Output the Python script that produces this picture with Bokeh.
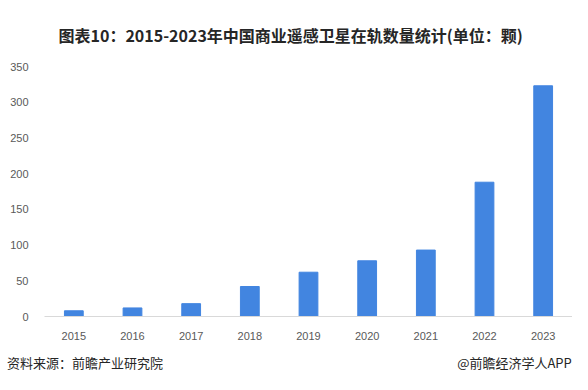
from bokeh.plotting import figure
from bokeh.models import Range1d, FixedTicker, LinearAxis, Title
from bokeh.embed import file_html
from bokeh.resources import INLINE

years = ["2015", "2016", "2017", "2018", "2019", "2020", "2021", "2022", "2023"]
counts = [8, 12, 18, 42, 62, 78, 93, 188, 323]
y_ticks = [0, 50, 100, 150, 200, 250, 300, 350]

title_text = "图表10：2015-2023年中国商业遥感卫星在轨数量统计(单位：颗)"
source_text = "资料来源：前瞻产业研究院"
brand_text = "@前瞻经济学人APP"

idx = list(range(len(years)))

W, H = 572, 374
FL, FT, FB = 44, 59, 55  # frame borders (figure px)
p = figure(width=W, height=H, x_range=Range1d(-0.5, len(years) - 0.5),
           y_range=Range1d(0, 350), output_backend="svg", toolbar_location=None,
           min_border_left=FL, min_border_right=0, min_border_top=FT, min_border_bottom=FB)
p.vbar(x=idx, top=counts, width=0.32, color="#4285e0")

p.xgrid.visible = False
p.ygrid.visible = False
p.outline_line_color = None
p.background_fill_color = "white"
p.border_fill_color = "white"

p.xaxis.ticker = FixedTicker(ticks=idx)
p.xaxis.major_label_overrides = {i: y for i, y in zip(idx, years)}
p.yaxis.ticker = FixedTicker(ticks=y_ticks)
for ax in (p.xaxis[0], p.yaxis[0]):
    ax.major_tick_line_color = None
    ax.minor_tick_line_color = None
    ax.major_label_text_color = "#595959"
    ax.major_label_text_font = "Liberation Sans"
    ax.major_label_text_font_size = "11px"
p.yaxis.axis_line_color = None
p.yaxis.major_label_standoff = 10
p.xaxis.axis_line_color = "#d9d9d9"
p.xaxis.major_label_standoff = 9

# title
p.title = Title(text=title_text, align="left", offset=14, standoff=40,
                text_font="Noto Sans CJK SC", text_font_style="bold",
                text_font_size="16px", text_color="#262626")

# footer row as an extra axis in pixel units
p.extra_x_ranges = {"px": Range1d(FL, W)}
src_pos, brand_pos = 84.5, 514
foot = LinearAxis(x_range_name="px", ticker=FixedTicker(ticks=[src_pos, brand_pos]),
                  major_label_overrides={src_pos: source_text, brand_pos: brand_text},
                  axis_line_color=None, major_tick_line_color=None, minor_tick_line_color=None,
                  major_label_standoff=4, major_label_text_font="Noto Sans CJK SC",
                  major_label_text_font_size="13px", major_label_text_color="#262626")
p.add_layout(foot, "below")

open("out.html", "w").write(file_html(p, INLINE))
